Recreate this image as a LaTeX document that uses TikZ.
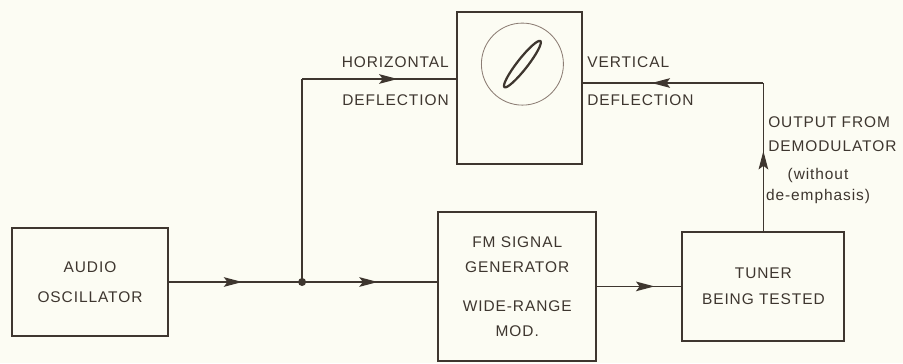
\documentclass[tikz,border=0pt]{standalone}
\usepackage{fontspec}
\setmainfont{Liberation Sans}[LetterSpace=6]
\usepackage{xcolor}
\usetikzlibrary{positioning,arrows.meta,decorations.markings}

\definecolor{ink}{HTML}{3E362F}
\definecolor{paper}{HTML}{FCFCF3}
\definecolor{tube}{HTML}{8C7D74}

\begin{document}
\begin{tikzpicture}[
    x=0.025cm, y=-0.025cm,
    font=\fontsize{11}{18.4}\selectfont,
    text=ink,
    box/.style={
        draw=ink,
        line width=1.5pt,
        align=center,
        inner sep=0pt
    },
    lbl/.style={inner sep=0pt, align=left},
    wire/.style={draw=ink, color=ink, line width=1.1pt},
    tip at/.style={
        postaction={decorate},
        decoration={markings, mark=at position #1 with {\arrow{Stealth[length=0.46cm,width=0.24cm,inset=0.09cm]}}}
    }
]
\fill[paper] (0,0) rectangle (903,363);

\node[box, minimum width=3.9cm, minimum height=2.7cm, font=\fontsize{11}{21.3}\selectfont] (audio) at (90,282) {AUDIO\\OSCILLATOR};
\node[box, minimum width=3.95cm, minimum height=3.725cm, font=\fontsize{11}{17.7}\selectfont, right=6.7cm of audio, yshift=-0.11cm] (fmgen) {FM SIGNAL\\GENERATOR\\[10pt]WIDE-RANGE\\MOD.};
\node[box, minimum width=4.05cm, minimum height=2.725cm, right=2.1cm of fmgen] (tuner) {TUNER\\BEING TESTED};
\node[box, minimum width=3.125cm, minimum height=3.8cm, above=1.15cm of fmgen, xshift=0.06cm] (scope) {};
\node[circle, draw=tube, line width=0.6pt, minimum size=2.05cm, below=0.3cm of scope.north, xshift=0.07cm] (crt) {};
\draw[ink, line width=1.6pt] (crt.center) ellipse [x radius=0.73cm, y radius=0.13cm, rotate=52];

\coordinate[right=3.325cm of audio.east] (j);
\coordinate (hd) at (j |- 0,79);
\coordinate (vd) at (tuner.north |- 0,83);

\draw[wire, tip at=0.55] (audio.east) -- (j);
\draw[wire, tip at=0.56] (j) -- (j -| fmgen.west);
\draw[wire] (j) -- (hd);
\draw[wire, tip at=0.62] (hd) -- (hd -| scope.west);
\draw[wire, tip at=0.68] (fmgen.east) -- (fmgen.east -| tuner.west);
\draw[wire, tip at=0.54] (tuner.north) -- (vd);
\draw[wire, tip at=0.62] (vd) -- (vd -| scope.east);
\fill[ink] (j) circle[radius=0.1cm];

\node[lbl, anchor=east] (hor) at (449,62) {HORIZONTAL};
\node[lbl, anchor=east] (hdefl) at (449,100) {DEFLECTION};
\node[lbl, anchor=west] (vert) at (587,62) {VERTICAL};
\node[lbl, anchor=west] (vdefl) at (587,100) {DEFLECTION};
\node[lbl, anchor=west, font=\fontsize{11}{17}\selectfont] (outlab) at (768,134) {OUTPUT FROM\\DEMODULATOR};
\node[lbl, align=center, font=\fontsize{11}{15.6}\selectfont] (note) at (818,186) {(without\\de-emphasis)};
\end{tikzpicture}
\end{document}
